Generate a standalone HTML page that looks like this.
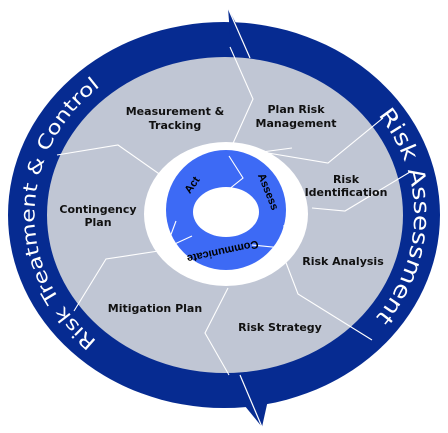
<!DOCTYPE html>
<html><head><meta charset="utf-8">
<style>
html,body{margin:0;padding:0;background:#fff;}
svg{display:block;}
.lbl{font-family:"DejaVu Sans","Liberation Sans",sans-serif;font-weight:bold;font-size:11px;fill:#111;text-anchor:middle;}
.band{font-family:"DejaVu Sans","Liberation Sans",sans-serif;fill:#fff;}
.inner{font-family:"Liberation Sans",sans-serif;font-weight:bold;font-size:11px;fill:#000;text-anchor:middle;}
</style></head>
<body>
<svg width="448" height="433" viewBox="0 0 448 433">
<defs>
<path id="rightArc" d="M 378 115 A 190 170 0 0 1 365 329"/>
<path id="leftArc" d="M 97 341 A 190 170 0 0 1 102 85"/>
</defs>
<ellipse cx="224" cy="215" rx="216" ry="193" fill="#062b91"/>
<polygon points="228,8 250,50 232,60" fill="#062b91"/>
<polygon points="240,400 268,400 262,427" fill="#062b91"/>
<polyline points="228,8 250,58" fill="none" stroke="#fff" stroke-width="1.2"/>
<polyline points="240,375 262,427" fill="none" stroke="#fff" stroke-width="1.2"/>
<ellipse cx="225" cy="215" rx="178" ry="158" fill="#c0c6d4"/>
<g fill="none" stroke="#fff" stroke-width="1.1">
<polyline points="230,47 253,99 230,150"/>
<polyline points="383,118 328,163 262,152 292,148"/>
<polyline points="410,172 345,211 312,208"/>
<polyline points="372,340 298,294 285,260"/>
<polyline points="229,375 205,333 228,288"/>
<polyline points="74,311 106,259 165,250"/>
<polyline points="57,155 118,145 165,178"/>
</g>
<ellipse cx="226" cy="214" rx="82" ry="72" fill="#fff"/>
<circle cx="226" cy="210" r="60" fill="#3d6af5"/>
<g fill="none" stroke="#fff" stroke-width="1.1">
<polyline points="229,156 243,178 228,190"/>
<polyline points="252,245 283,248 284,225"/>
<polyline points="176,221 166,248 192,236"/>
</g>
<ellipse cx="226" cy="212" rx="33" ry="25" fill="#fff"/>
<text class="inner" transform="translate(195,187) rotate(-55)">Act</text>
<text class="inner" transform="translate(265,193) rotate(68)">Assess</text>
<text class="inner" transform="translate(222,248) rotate(168)">Communicate</text>
<text class="band" font-size="22"><textPath href="#rightArc" textLength="220" lengthAdjust="spacingAndGlyphs">Risk Assessment</textPath></text>
<text class="band" font-size="19"><textPath href="#leftArc" textLength="295" lengthAdjust="spacingAndGlyphs">Risk Treatment &amp; Control</textPath></text>
<text class="lbl" x="175" y="115">Measurement &amp;<tspan x="175" dy="14">Tracking</tspan></text>
<text class="lbl" x="296" y="113">Plan Risk<tspan x="296" dy="14">Management</tspan></text>
<text class="lbl" x="346" y="183">Risk<tspan x="346" dy="13">Identification</tspan></text>
<text class="lbl" x="343" y="265">Risk Analysis</text>
<text class="lbl" x="280" y="331">Risk Strategy</text>
<text class="lbl" x="155" y="312">Mitigation Plan</text>
<text class="lbl" x="98" y="213">Contingency<tspan x="98" dy="13">Plan</tspan></text>
</svg>
</body></html>
